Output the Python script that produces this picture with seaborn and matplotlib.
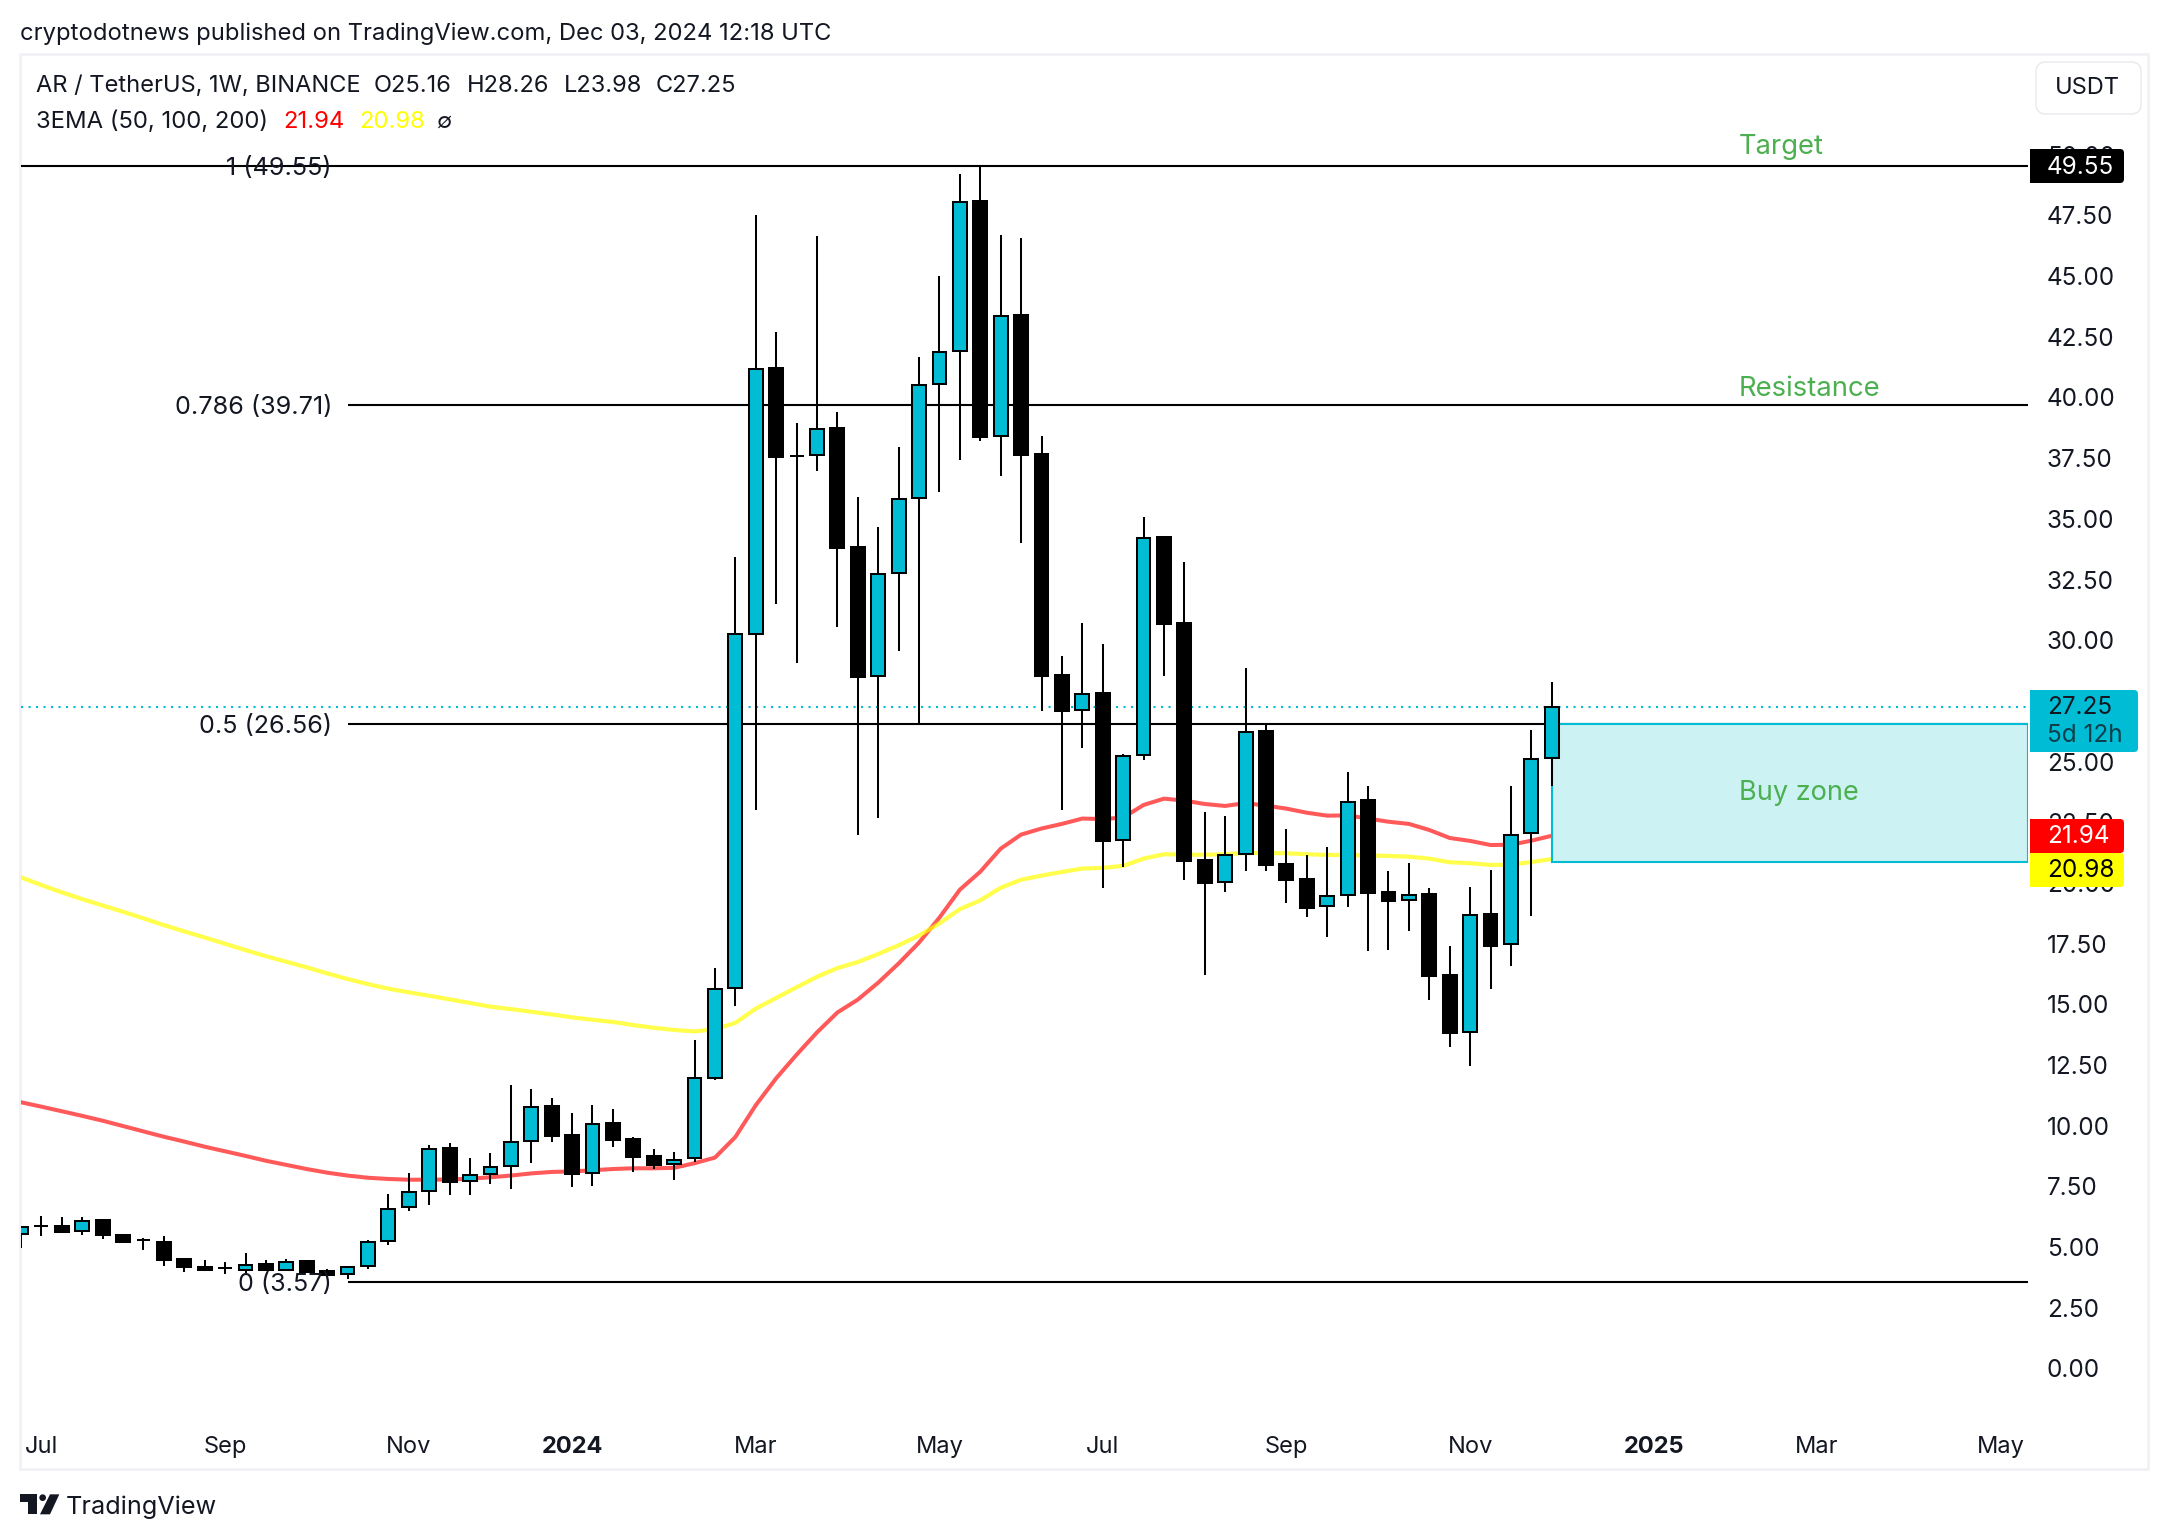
import numpy as np
import pandas as pd
import matplotlib
matplotlib.use("Agg")
import matplotlib.pyplot as plt
import matplotlib.dates as mdates
import matplotlib.transforms as mtransforms
from matplotlib.patches import Rectangle, FancyBboxPatch, Polygon, Circle
import seaborn as sns

opens = [5.53,5.85,5.85,5.66,6.11,5.49,5.29,5.19,4.50,4.17,4.14,4.03,4.28,4.03,4.41,3.99,3.87,4.20,5.25,6.63,
         7.29,9.06,7.71,8.00,8.32,9.35,10.79,9.60,8.03,10.09,9.43,8.75,8.40,8.67,11.95,15.65,30.27,41.20,37.58,37.63,
         38.73,33.83,28.53,32.75,35.84,40.54,41.90,48.08,38.40,43.38,37.66,28.55,27.11,27.81,21.77,25.25,34.24,30.69,20.93,20.02,
         21.19,26.24,20.76,20.15,19.03,19.49,23.40,19.61,19.28,19.53,16.19,13.86,18.70,17.47,22.05,25.16]
highs = [5.85,6.27,6.22,6.22,6.15,5.52,5.35,5.45,4.53,4.45,4.36,4.74,4.45,4.50,4.45,4.09,4.20,5.27,7.17,8.03,
         9.19,9.27,8.65,8.86,11.66,11.49,11.12,10.50,10.83,10.67,9.52,9.02,8.90,13.52,16.49,33.43,47.52,42.70,38.95,46.65,
         39.40,35.90,34.66,37.96,41.67,45.00,49.21,49.55,46.70,46.57,38.41,29.35,30.71,29.84,25.30,35.08,34.24,33.22,22.92,22.76,
         28.85,26.56,22.22,21.15,21.48,24.57,23.99,20.49,20.82,19.79,17.40,19.83,20.53,23.99,26.30,28.26]
lows = [4.94,5.46,5.63,5.51,5.34,5.18,4.89,4.23,3.97,4.02,3.90,3.88,4.06,4.03,3.94,3.86,3.69,4.10,5.09,6.49,
        6.74,7.14,7.14,7.59,7.39,8.46,9.34,7.48,7.52,9.13,8.10,8.21,7.77,8.48,11.86,14.94,23.00,31.50,29.05,36.98,
        30.56,21.99,22.68,29.57,26.56,36.12,37.44,38.21,36.78,34.02,27.10,23.00,25.54,19.80,20.67,25.08,28.54,20.13,16.22,19.64,
        20.50,20.50,19.18,18.61,17.78,19.02,17.21,17.25,18.03,15.19,13.25,12.47,15.64,16.59,18.65,23.98]
closes = [5.83,5.87,5.63,6.08,5.48,5.22,5.28,4.47,4.19,4.06,4.12,4.27,4.06,4.38,3.98,3.86,4.17,5.22,6.56,7.26,
          9.03,7.69,7.98,8.31,9.34,10.78,9.58,8.02,10.08,9.42,8.72,8.38,8.59,11.95,15.64,30.24,41.19,37.56,37.60,38.72,
          33.81,28.50,32.74,35.83,40.53,41.89,48.07,38.39,43.37,37.64,28.53,27.10,27.79,21.74,25.24,34.22,30.68,20.92,20.01,21.16,
          26.23,20.75,20.13,18.98,19.47,23.33,19.60,19.27,19.51,16.18,13.83,18.69,17.41,21.99,25.10,27.25]
ema_red = [10.96,10.78,10.59,10.40,10.20,9.98,9.76,9.54,9.34,9.13,8.94,8.75,8.55,8.38,8.21,8.06,7.94,7.85,7.80,7.77,
           7.77,7.78,7.81,7.87,7.94,8.03,8.09,8.11,8.16,8.21,8.24,8.24,8.26,8.45,8.68,9.53,10.84,11.95,12.92,13.84,
           14.66,15.19,15.89,16.68,17.54,18.57,19.72,20.46,21.41,21.99,22.24,22.43,22.65,22.63,22.69,23.21,23.47,23.39,23.25,23.17,
           23.29,23.18,23.06,22.89,22.77,22.78,22.65,22.52,22.43,22.18,21.85,21.73,21.56,21.57,21.74,21.94]
ema_yellow = [20.23,19.91,19.61,19.33,19.07,18.81,18.54,18.26,18.00,17.75,17.49,17.23,16.98,16.75,16.52,16.27,16.04,15.83,15.64,15.49,
              15.35,15.20,15.05,14.90,14.80,14.69,14.58,14.46,14.36,14.27,14.14,14.03,13.94,13.88,13.97,14.23,14.82,15.26,15.70,16.13,
              16.49,16.74,17.07,17.43,17.83,18.33,18.92,19.28,19.80,20.13,20.30,20.45,20.59,20.62,20.70,21.00,21.18,21.16,21.16,21.18,
              21.23,21.23,21.22,21.18,21.15,21.15,21.13,21.11,21.08,21.00,20.85,20.81,20.74,20.75,20.86,20.98]
first_week = "2023-06-26"
fib_levels = [49.55, 39.71, 26.56, 3.57]
fib_labels = ["1 (49.55)", "0.786 (39.71)", "0.5 (26.56)", "0 (3.57)"]
price_ticks = [0,2.5,5,7.5,10,12.5,15,17.5,20,22.5,25,27.5,30,32.5,35,37.5,40,42.5,45,47.5,50]
month_dates = ["2023-07-03","2023-09-04","2023-11-06","2024-01-01","2024-03-04","2024-05-06","2024-07-01","2024-09-02","2024-11-04","2025-01-06","2025-03-03","2025-05-05"]
month_labels = ["Jul","Sep","Nov","2024","Mar","May","Jul","Sep","Nov","2025","Mar","May"]
buy_zone = [26.56, 20.86]
last_close = 27.25

W, H = 2168, 1540
INK = "#131722"; TEAL = "#00bcd4"; GREEN = "#4caf50"
sns.set_theme(style="white")
plt.rcParams["font.family"] = ["Inter", "DejaVu Sans"]
fig = plt.figure(figsize=(W/100, H/100), dpi=100, facecolor="white")
px = mtransforms.Affine2D().scale(1, -1).translate(0, H)

L, R, T, B = 21, 2028, 55, 1420
ax = fig.add_axes([L/W, 1-B/H, (R-L)/W, (B-T)/H])
ax.set_facecolor("none")
for s in ax.spines.values():
    s.set_visible(False)

dates = pd.date_range(first_week, periods=len(closes), freq="7D")
xn = mdates.date2num(dates)
px_per_day = 20.41/7
x_right = xn[0] + (R-L)/px_per_day
ax.set_xlim(xn[0], x_right)
sc = 24.27
ax.set_ylim(49.55-(B-165.7)/sc, 49.55+(165.7-T)/sc)

# fib lines, first spans the whole pane, others start at the swing low
for i, (lv, lab) in enumerate(zip(fib_levels, fib_labels)):
    ax.hlines(lv, xn[0] if i == 0 else xn[16], x_right, color="black", lw=1.5, zorder=1)
    ax.annotate(lab, (332/W, 1-(168.2+(49.55-lv)*sc)/H), xycoords="figure fraction",
                ha="right", va="center", fontsize=18.1, color=INK, zorder=8)
ax.hlines(last_close, xn[0], x_right, color=TEAL, lw=1.5, linestyles=(0, (1.0, 2.6)), zorder=1.5)

sns.lineplot(x=xn, y=ema_red, ax=ax, color="red", alpha=0.65, linewidth=2.9, legend=False, zorder=2)
sns.lineplot(x=xn, y=ema_yellow, ax=ax, color="yellow", alpha=0.7, linewidth=3.0, legend=False, zorder=2)

ax.add_patch(Rectangle((xn[-1], buy_zone[1]), x_right-xn[-1], buy_zone[0]-buy_zone[1],
                       facecolor="#ccf2f4", edgecolor=TEAL, lw=1.5, zorder=2.5))

o, h, l, c = map(np.array, (opens, highs, lows, closes))
ax.vlines(xn, l, h, color="black", lw=1.45, zorder=3)
cols = [TEAL if cc >= oo else "black" for oo, cc in zip(o, c)]
ax.bar(xn, c-o, bottom=o, width=4.75, color=cols, edgecolor="black", linewidth=1.45, zorder=4)

ax.yaxis.tick_right()
ax.set_yticks(price_ticks)
ax.set_yticklabels([f"{t:.2f}" for t in price_ticks])
ax.tick_params(axis="y", length=0, pad=13.6, labelsize=17.5, labelcolor=INK)
ax.set_xticks(mdates.date2num(pd.to_datetime(month_dates)))
ax.set_xticklabels(month_labels)
ax.tick_params(axis="x", length=0, pad=11.5, labelsize=17, labelcolor=INK)
for t in ax.get_xticklabels():
    if t.get_text().isdigit():
        t.set_fontweight("bold")
ax.grid(False)

# pane frame
fig.add_artist(Rectangle((20, 54), 2128, 1415, transform=px, fill=False, edgecolor="#f0f0f5", lw=1.8, zorder=-1))

def txt(x, y, s, size=17, color=INK, ha="left", z=9, **kw):
    fig.text(x, y+2.5, s, transform=px, fontsize=size, color=color, ha=ha, va="center", zorder=z, **kw)

def badge(x0, y0, x1, y1, color):
    fig.add_artist(FancyBboxPatch((x0, y0), x1-x0, y1-y0, boxstyle="round,pad=0,rounding_size=4",
                                  transform=px, fc=color, ec="none", zorder=7))
    fig.add_artist(Rectangle((x0, y0), (x1-x0)/2, y1-y0, transform=px, fc=color, ec="none", zorder=7))

badge(2030, 149, 2124, 183, "black"); txt(2047, 165, "49.55", size=17.5, color="white")
badge(2030, 690, 2138, 752, TEAL); txt(2047, 705, "27.25", size=17.5, color=INK); txt(2047, 733, "5d 12h", size=17.5, color="#0d3f4a")
badge(2030, 819, 2124, 853, "#ff0000"); txt(2047, 834, "21.94", size=17.5, color="white")
badge(2030, 853, 2124, 887, "#ffff00"); txt(2047, 868, "20.98", size=17.5, color="black")
fig.add_artist(FancyBboxPatch((2036, 62), 105, 52, boxstyle="round,pad=0,rounding_size=10",
                              transform=px, fc="white", ec="#e8e8ee", lw=1, zorder=7))
txt(2087, 86, "USDT", ha="center")

txt(20, 31, "cryptodotnews published on TradingView.com, Dec 03, 2024 12:18 UTC", size=17.1)
txt(36, 84, "AR / TetherUS, 1W, BINANCE", size=17)
txt(374, 84, "O25.16", size=17); txt(467, 84, "H28.26", size=17)
txt(564, 84, "L23.98", size=17); txt(656, 84, "C27.25", size=17)
txt(36, 119, "3EMA (50, 100, 200)", size=17.2)
txt(283, 119, "21.94", size=17.2, color="#ff0000")
txt(359, 119, "20.98", size=17.2, color="#ffff00")
txt(437, 119, "∅", size=16)

txt(1739, 145, "Target", size=19.7, color=GREEN)
txt(1739, 386, "Resistance", size=19.8, color=GREEN)
txt(1739, 790, "Buy zone", size=19.5, color=GREEN)

# footer logo
def zp(pts):
    return [(a/3, 1380+b/3) for a, b in pts]
fig.add_artist(Polygon(zp([(60,343),(110,343),(110,403),(85,403),(85,366),(60,366)]), transform=px, fc=INK, ec="none"))
fig.add_artist(Circle((128/3, 1380+353/3), 10/3, transform=px, fc=INK, ec="none"))
fig.add_artist(Polygon(zp([(178,343),(150,343),(120,403),(150,403)]), transform=px, fc=INK, ec="none"))
txt(66, 1504.5, "TradingView", size=18.2)

fig.savefig("out.png", dpi=100, facecolor="white")
